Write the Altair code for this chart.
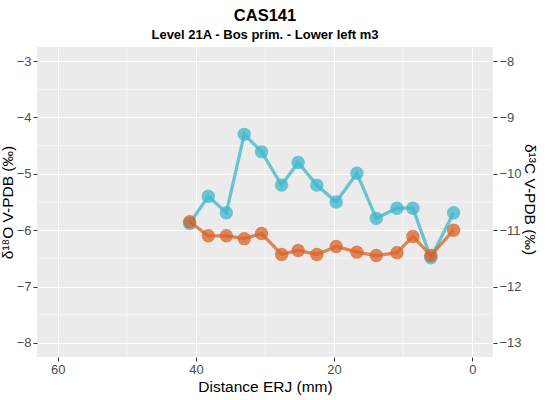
import altair as alt
import pandas as pd

# ---- data ----
distance = [40.9, 38.2, 35.6, 33.0, 30.5, 27.6, 25.2, 22.5, 19.7, 16.7, 13.9, 10.9, 8.6, 6.0, 2.7]
d18O = [-5.88, -5.40, -5.69, -4.30, -4.61, -5.20, -4.80, -5.20, -5.50, -4.99, -5.79, -5.61, -5.61, -6.49, -5.69]
d13C = [-10.85, -11.10, -11.10, -11.15, -11.06, -11.43, -11.36, -11.43, -11.29, -11.39, -11.45, -11.40, -11.11, -11.45, -11.00]

x_major = [0, 20, 40, 60]
x_minor = [10, 30, 50]
y_left_major = [-8, -7, -6, -5, -4, -3]
y_left_minor = [-7.5, -6.5, -5.5, -4.5, -3.5]
y_right_major = [-13, -12, -11, -10, -9, -8]

title_text = "CAS141"
subtitle_text = "Level 21A - Bos prim. - Lower left m3"
x_title = "Distance ERJ (mm)"
left_title = "δ¹⁸O V-PDB (‰)"
right_title = "δ¹³C V-PDB (‰)"

df = pd.DataFrame({"distance": distance, "d18O": d18O, "d13C": d13C})
dfx = pd.DataFrame({"xm": x_minor})
dfy = pd.DataFrame({"ym": y_left_minor})

FONT = "Liberation Sans"
BLUE = "#3FB5CB"
ORANGE = "#DA6128"

xscale = alt.Scale(domain=[-3, 63], reverse=True, nice=False, zero=False)
yl_scale = alt.Scale(domain=[-8.25, -2.75], nice=False, zero=False)
yr_scale = alt.Scale(domain=[-13.25, -7.75], nice=False, zero=False)

xaxis = alt.Axis(values=x_major, title=x_title, grid=True, gridColor="white", gridWidth=1.1,
                 domain=False, tickColor="#333333", tickSize=4, tickWidth=1,
                 labelFont=FONT, labelFontSize=13, labelColor="#4D4D4D", labelPadding=2,
                 titleFont=FONT, titleFontSize=15.5, titleFontWeight="normal", titleColor="black",
                 titlePadding=3)
yl_axis = alt.Axis(values=y_left_major, title=left_title, orient="left", grid=True, gridColor="white",
                   gridWidth=1.1, domain=False, tickColor="#333333", tickSize=4, tickWidth=1,
                   labelFont=FONT, labelFontSize=13, labelColor="#4D4D4D", labelPadding=2,
                   titleFont=FONT, titleFontSize=15.5, titleFontWeight="normal", titleColor="black",
                   titleAngle=270, titleX=-22, titleY=155, titleAlign="center", titleBaseline="bottom")
yr_axis = alt.Axis(values=y_right_major, title=right_title, orient="right", grid=False,
                   domain=False, tickColor="#333333", tickSize=4, tickWidth=1,
                   labelFont=FONT, labelFontSize=13, labelColor="#4D4D4D", labelPadding=2,
                   titleFont=FONT, titleFontSize=15.5, titleFontWeight="normal", titleColor="black",
                   titleAngle=90, titleX=28, titleY=152, titleAlign="center", titleBaseline="bottom")

minor_x = alt.Chart(dfx).mark_rule(color="white", strokeWidth=0.55).encode(
    x=alt.X("xm:Q", scale=xscale, axis=xaxis))
minor_y = alt.Chart(dfy).mark_rule(color="white", strokeWidth=0.55).encode(
    y=alt.Y("ym:Q", scale=yl_scale, axis=yl_axis))

blue_base = alt.Chart(df).encode(
    x=alt.X("distance:Q", scale=xscale, axis=xaxis),
    y=alt.Y("d18O:Q", scale=yl_scale, axis=yl_axis))
blue_line = blue_base.mark_line(color=BLUE, strokeWidth=3.3, opacity=0.75)
blue_pts = blue_base.mark_circle(color=BLUE, size=180, opacity=0.75)

orange_base = alt.Chart(df).encode(
    x=alt.X("distance:Q", scale=xscale, axis=xaxis),
    y=alt.Y("d13C:Q", scale=yr_scale, axis=yr_axis))
orange_line = orange_base.mark_line(color=ORANGE, strokeWidth=3.3, opacity=0.75)
orange_pts = orange_base.mark_circle(color=ORANGE, size=180, opacity=0.75)

left = alt.layer(minor_x, minor_y, blue_line, blue_pts)
right = alt.layer(orange_line, orange_pts)

chart = alt.layer(left, right).resolve_scale(y="independent").properties(
    width=456, height=310,
    background="white",
    autosize=alt.AutoSizeParams(type="none"),
    padding={"left": 37, "top": 47, "right": 55, "bottom": 43},
    title=alt.Title(title_text, subtitle=subtitle_text, font=FONT, subtitleFont=FONT,
                    fontSize=16.5, subtitleFontSize=13, fontWeight="bold", subtitleFontWeight="bold",
                    color="black", subtitleColor="black", anchor="middle", offset=5,
                    subtitlePadding=4),
).configure_view(fill="#EBEBEB", strokeWidth=0)

chart.save("out.html", embed_options={"renderer": "svg", "actions": False})
